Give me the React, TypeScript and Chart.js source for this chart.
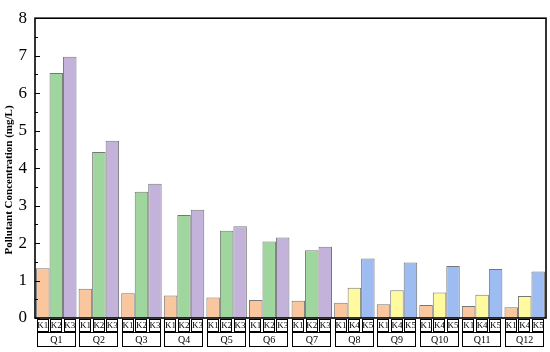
import React, { useEffect, useRef } from "react";
import { Chart, registerables } from "chart.js";

Chart.register(...registerables);

const categories = ["Q1", "Q2", "Q3", "Q4", "Q5", "Q6", "Q7", "Q8", "Q9", "Q10", "Q11", "Q12"];
const seriesA = [1.33, 0.78, 0.66, 0.6, 0.55, 0.48, 0.46, 0.41, 0.37, 0.35, 0.32, 0.29];
const seriesB = [6.54, 4.43, 3.37, 2.75, 2.33, 2.04, 1.81, 0.81, 0.74, 0.68, 0.62, 0.59];
const seriesC = [6.97, 4.73, 3.58, 2.89, 2.45, 2.15, 1.9, 1.59, 1.48, 1.39, 1.31, 1.24];
const subLabelsA = ["K1", "K1", "K1", "K1", "K1", "K1", "K1", "K1", "K1", "K1", "K1", "K1"];
const subLabelsB = ["K2", "K2", "K2", "K2", "K2", "K2", "K2", "K4", "K4", "K4", "K4", "K4"];
const subLabelsC = ["K3", "K3", "K3", "K3", "K3", "K3", "K3", "K5", "K5", "K5", "K5", "K5"];
const yTicks = [0, 1, 2, 3, 4, 5, 6, 7, 8];
const yTitle = "Pollutant Concentration (mg/L)";

const ORANGE = "#F9C69E";
const GREEN = "#9FD69E";
const PURPLE = "#C3B2DA";
const YELLOW = "#FFFA9E";
const BLUE = "#9DBDF2";

const colorFor = (lbl: string) =>
  ({ K1: ORANGE, K2: GREEN, K3: PURPLE, K4: YELLOW, K5: BLUE } as Record<string, string>)[lbl];

const subLabels = [subLabelsA, subLabelsB, subLabelsC];

const decorPlugin = {
  id: "decor",
  afterDraw(chart: any) {
    const ctx = chart.ctx as CanvasRenderingContext2D;
    const ca = chart.chartArea;
    const y = chart.scales.y;
    ctx.save();
    ctx.strokeStyle = "#000";
    ctx.lineWidth = 1.6;
    ctx.strokeRect(ca.left, ca.top, ca.right - ca.left, ca.bottom - ca.top);
    ctx.lineWidth = 1;
    for (let v = 0; v <= 8; v += 0.5) {
      const py = Math.round(y.getPixelForValue(v)) + 0.5;
      const len = Number.isInteger(v) ? 5 : 3;
      ctx.beginPath();
      ctx.moveTo(ca.left, py);
      ctx.lineTo(ca.left + len, py);
      ctx.stroke();
    }
    const rowTop = ca.bottom + 1;
    const rowH = 12;
    const qTop = rowTop + rowH + 1;
    const qH = 14;
    ctx.fillStyle = "#000";
    ctx.textAlign = "center";
    ctx.textBaseline = "middle";
    ctx.lineWidth = 1;
    const metas = [0, 1, 2].map((i) => chart.getDatasetMeta(i));
    categories.forEach((cat, ci) => {
      let gl = Infinity;
      let gr = -Infinity;
      metas.forEach((meta: any, di: number) => {
        const bar = meta.data[ci];
        const bx = bar.x;
        const bw = bar.width;
        const l = bx - bw / 2 + 0.5;
        const r = bx + bw / 2 - 0.5;
        gl = Math.min(gl, l);
        gr = Math.max(gr, r);
        ctx.strokeRect(Math.round(l) + 0.5, rowTop + 0.5, Math.round(r - l) - 1, rowH);
        ctx.font = "9px 'Liberation Serif'";
        ctx.fillText(subLabels[di][ci], bx, rowTop + rowH / 2 + 1);
      });
      ctx.strokeRect(Math.round(gl) + 0.5, qTop + 0.5, Math.round(gr - gl) - 1, qH);
      ctx.font = "10px 'Liberation Serif'";
      ctx.fillText(cat, (gl + gr) / 2, qTop + qH / 2 + 1);
    });
    ctx.save();
    ctx.translate(9, 180);
    ctx.rotate(-Math.PI / 2);
    ctx.font = "bold 11px 'Liberation Serif'";
    ctx.fillText(yTitle, 0, 0);
    ctx.restore();
    ctx.restore();
  },
};

export default function App() {
  const ref = useRef<HTMLCanvasElement | null>(null);
  useEffect(() => {
    if (!ref.current) return;
    const mk = (data: number[], lbls: string[], label: string) => ({
      label,
      data,
      backgroundColor: lbls.map(colorFor),
      borderColor: "rgba(85,85,85,0.8)",
      borderWidth: 1,
      borderSkipped: "bottom" as const,
      categoryPercentage: 0.95,
      barPercentage: 1.0,
    });
    const chart = new Chart(ref.current, {
      type: "bar",
      data: {
        labels: categories,
        datasets: [
          mk(seriesA, subLabelsA, "A"),
          mk(seriesB, subLabelsB, "B"),
          mk(seriesC, subLabelsC, "C"),
        ],
      },
      options: {
        responsive: false,
        animation: false,
        layout: { padding: { top: 9, right: 4, bottom: 34, left: 0 } },
        plugins: { legend: { display: false }, tooltip: { enabled: false } },
        scales: {
          x: { display: false },
          y: {
            min: 0,
            max: 8,
            afterFit: (s: any) => {
              s.width = 35;
            },
            afterBuildTicks: (s: any) => {
              s.ticks = yTicks.map((v) => ({ value: v }));
            },
            grid: { display: false, drawTicks: false },
            border: { display: false },
            ticks: {
              padding: 8,
              color: "#000",
              font: { family: "'Liberation Serif'", size: 17 },
            },
          },
        },
      },
      plugins: [decorPlugin],
    });
    return () => chart.destroy();
  }, []);
  return (
    <div style={{ position: "absolute", left: 0, top: 0, width: 550, height: 352, background: "#fff" }}>
      <canvas ref={ref} width={550} height={352} style={{ display: "block" }} />
    </div>
  );
}
